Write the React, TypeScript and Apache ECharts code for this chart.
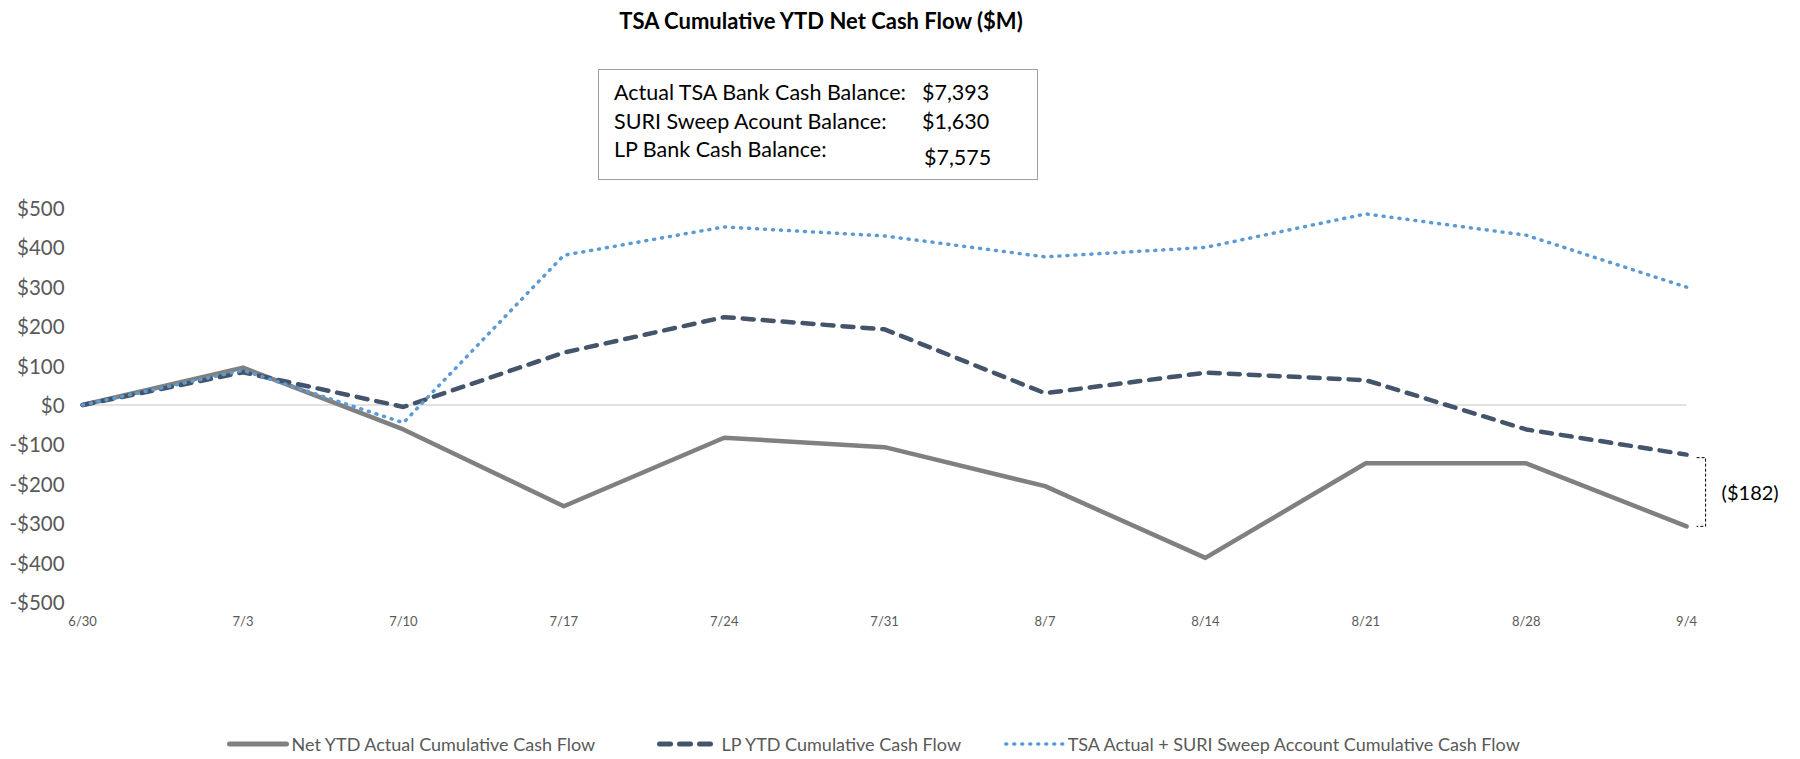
import React, { useEffect, useRef } from 'react';
import * as echarts from 'echarts';

const categories = ['6/30', '7/3', '7/10', '7/17', '7/24', '7/31', '8/7', '8/14', '8/21', '8/28', '9/4'];
const netActual = [0, 95, -62, -257, -83, -107, -206, -388, -148, -148, -308];
const lpCumulative = [0, 83, -5, 133, 223, 192, 30, 82, 63, -62, -126];
const tsaSuri = [0, 88, -45, 380, 452, 429, 376, 400, 485, 431, 299];
const seriesNames = [
  'Net YTD Actual Cumulative Cash Flow',
  'LP YTD Cumulative Cash Flow',
  'TSA Actual + SURI Sweep Account Cumulative Cash Flow',
];
const yMin = -500;
const yMax = 500;
const yInterval = 100;
const balanceLabels = ['Actual TSA Bank Cash Balance:', 'SURI Sweep Acount Balance:', 'LP Bank Cash Balance:'];
const balanceValues = ['$7,393', '$1,630', '$7,575'];
const titleText = 'TSA Cumulative YTD Net Cash Flow ($M)';

const FONT = 'Lato, "Noto Sans", sans-serif';
const GRAY_TEXT = '#595959';

export default function App() {
  const ref = useRef<HTMLDivElement>(null);

  useEffect(() => {
    document.body.style.margin = '0';
    if (!ref.current) return;
    const chart = echarts.init(ref.current, undefined, { renderer: 'svg' });

    const legendBase = {
      top: 730,
      itemWidth: 57,
      itemHeight: 14,
      itemStyle: { opacity: 0, borderWidth: 0 },
      textStyle: { fontFamily: FONT, fontSize: 18, color: GRAY_TEXT },
    };

    const boxTexts: any[] = [];
    const rowY = [92, 120.5, 149];
    const valY = [92, 120.5, 157];
    const valX = [922, 922, 924];
    balanceLabels.forEach((t, i) => {
      boxTexts.push({
        type: 'text',
        x: 614,
        y: rowY[i],
        style: { text: t, font: `21.5px ${FONT}`, fill: '#000', textVerticalAlign: 'middle' },
      });
      boxTexts.push({
        type: 'text',
        x: valX[i],
        y: valY[i],
        style: { text: balanceValues[i], font: `21.5px ${FONT}`, fill: '#000', textVerticalAlign: 'middle' },
      });
    });

    chart.setOption({
      animation: false,
      grid: { left: 82.6, right: 113.4, top: 208, bottom: 157, containLabel: false },
      legend: [
        { ...legendBase, left: 222, data: [seriesNames[0]], lineStyle: { width: 5 } },
        { ...legendBase, left: 652, data: [seriesNames[1]], lineStyle: { width: 5 } },
        { ...legendBase, left: 999, data: [seriesNames[2]], lineStyle: { width: 3.5 } },
      ],
      xAxis: {
        type: 'category',
        data: categories,
        boundaryGap: false,
        axisLine: { show: false },
        axisTick: { show: false },
        axisLabel: { fontFamily: FONT, fontSize: 13, color: GRAY_TEXT, margin: 12 },
        splitLine: { show: false },
      },
      yAxis: {
        type: 'value',
        min: yMin,
        max: yMax,
        interval: yInterval,
        axisLine: { show: false },
        axisTick: { show: false },
        splitLine: { show: false },
        axisLabel: {
          fontFamily: FONT,
          fontSize: 20.5,
          color: GRAY_TEXT,
          margin: 18,
          formatter: (v: number) => (v < 0 ? `-$${Math.abs(v)}` : `$${v}`),
        },
      },
      series: [
        {
          name: seriesNames[0],
          type: 'line',
          data: netActual,
          symbol: 'none',
          lineStyle: { color: '#808080', width: 4.5, cap: 'round', join: 'round' },
          itemStyle: { color: '#808080' },
          markLine: {
            silent: true,
            symbol: ['none', 'none'],
            label: { show: false },
            lineStyle: { color: '#D9D9D9', width: 1.5, type: 'solid' },
            data: [{ yAxis: 0 }],
            z: 1,
          },
        },
        {
          name: seriesNames[1],
          type: 'line',
          data: lpCumulative,
          symbol: 'none',
          lineStyle: { color: '#44546A', width: 4.5, type: [11, 9], cap: 'round', join: 'round' },
          itemStyle: { color: '#44546A' },
        },
        {
          name: seriesNames[2],
          type: 'line',
          data: tsaSuri,
          symbol: 'none',
          lineStyle: { color: '#5B9BD5', width: 3.5, type: [1, 7], cap: 'round', join: 'round' },
          itemStyle: { color: '#5B9BD5' },
        },
      ],
    });

    const last = categories.length - 1;
    const pTop = chart.convertToPixel({ gridIndex: 0 }, [last, lpCumulative[last]]) as number[];
    const pBot = chart.convertToPixel({ gridIndex: 0 }, [last, netActual[last]]) as number[];
    const bx = pTop[0] + 19;
    const diff = Math.round(lpCumulative[last] - netActual[last]);

    chart.setOption({
      graphic: [
        {
          type: 'text',
          x: 821,
          y: 20,
          style: {
            text: titleText,
            font: `bold 22px ${FONT}`,
            fill: '#000',
            textAlign: 'center',
            textVerticalAlign: 'middle',
          },
        },
        {
          type: 'rect',
          shape: { x: 598.5, y: 69.5, width: 439, height: 110 },
          style: { fill: 'none', stroke: '#404040', lineWidth: 1, lineDash: [1, 1] },
        },
        ...boxTexts,
        {
          type: 'polyline',
          shape: {
            points: [
              [bx - 9, pTop[1] + 3],
              [bx, pTop[1] + 3],
              [bx, pBot[1]],
              [bx - 9, pBot[1]],
            ],
          },
          style: { fill: 'none', stroke: '#000', lineWidth: 1, lineDash: [3, 2] },
        },
        {
          type: 'text',
          x: bx + 16,
          y: (pTop[1] + pBot[1]) / 2 + 2,
          style: {
            text: `($${diff})`,
            font: `20px ${FONT}`,
            fill: '#000',
            textVerticalAlign: 'middle',
          },
        },
      ],
    });

    return () => chart.dispose();
  }, []);

  return <div ref={ref} style={{ width: 1800, height: 759 }} />;
}
